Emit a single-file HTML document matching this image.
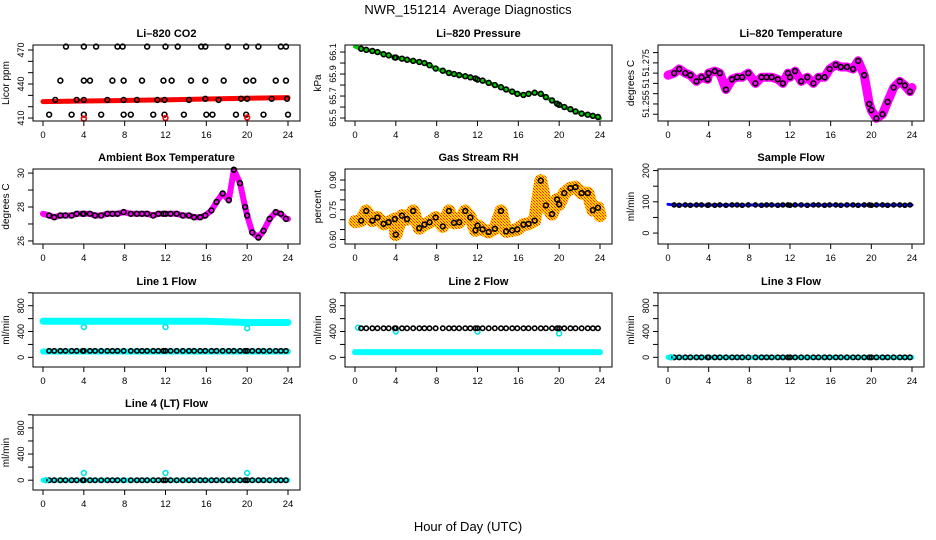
<!DOCTYPE html>
<html><head><meta charset="utf-8"><style>
body{margin:0;background:#fff}
svg{display:block;font-family:"Liberation Sans",sans-serif}
</style></head><body>
<svg id="c" width="936" height="540">
<defs>
<pattern id="rhpat" width="3" height="3" patternUnits="userSpaceOnUse">
<rect width="3" height="3" fill="#ffd000"/><rect width="1" height="1" fill="#ff2000"/><rect x="2" y="2" width="1" height="1" fill="#ff2000"/><rect x="1" y="1" width="1" height="1" fill="#ff8000"/>
</pattern>
</defs>
<text x="468" y="14" text-anchor="middle" font-size="13" style="white-space:pre">NWR_151214  Average Diagnostics</text>
<text x="468" y="531" text-anchor="middle" font-size="13">Hour of Day (UTC)</text>
</svg>
<script>
const hrs=[0.6,1.1,1.7,2.2,2.8,3.3,3.9,4.0,4.6,5.1,5.7,6.3,6.8,7.3,7.9,8.6,9.2,9.7,10.2,10.8,11.3,11.8,12.0,12.5,13.1,13.7,14.3,14.8,15.4,15.9,16.5,17.0,17.6,18.2,18.7,19.3,19.8,20.0,20.5,21.1,21.6,22.2,22.8,23.3,23.8];
const co2Hours=[2.25,4.0,5.2,7.3,7.8,10.2,12.0,13.2,15.5,15.9,18.1,19.9,21.1,23.3,23.8, 1.7,4.0,4.6,6.8,7.9,9.7,11.8,12.6,14.5,15.9,17.7,19.9,20.6,22.8,23.8, 1.2,3.3,4.0,6.3,7.9,9.2,11.2,11.9,14.3,15.9,17.2,19.4,20.0,22.4,23.9, 0.6,2.8,4.0,5.7,7.9,8.6,10.8,11.9,13.8,16.0,16.6,18.9,19.9,21.6,24.0];
const co2Values=[473,473,473,473,473,473,473,473,473,473,473,473,473,473,473, 443,443,443,443,443,443,443,443,443,443,443,443,443,443,443, 426,426,426,426,426,426,426,426,426,427,426,427,427,427,427, 413,413,413,413,413,413,413,413,413,413,413,413,413,413,413];
const co2RedHours=[4.0,12.0,20.0];
const co2RedValues=[409.5,410,410.5];
const bandHours=[0,4,8,12,16,20,24];
const co2Band=[424.5,425,425.5,426,426.8,427.5,428];
const pressure=[66.13,66.12,66.11,66.10,66.08,66.07,66.05,66.05,66.04,66.03,66.02,66.01,66.00,65.98,65.95,65.93,65.91,65.90,65.89,65.88,65.87,65.86,65.85,65.84,65.82,65.80,65.78,65.76,65.74,65.72,65.71,65.72,65.73,65.72,65.69,65.66,65.63,65.62,65.60,65.58,65.56,65.54,65.53,65.52,65.51];
const temperature=[51.270,51.272,51.270,51.269,51.266,51.268,51.267,51.270,51.271,51.270,51.262,51.267,51.268,51.268,51.270,51.265,51.268,51.268,51.268,51.267,51.265,51.270,51.268,51.271,51.266,51.268,51.265,51.268,51.268,51.272,51.274,51.273,51.273,51.272,51.276,51.269,51.255,51.252,51.248,51.250,51.256,51.263,51.266,51.264,51.261];
const ambient=[27.5,27.4,27.5,27.5,27.5,27.6,27.6,27.6,27.6,27.5,27.5,27.6,27.6,27.6,27.7,27.6,27.6,27.6,27.6,27.5,27.6,27.6,27.6,27.6,27.6,27.5,27.5,27.4,27.4,27.5,27.8,28.3,28.8,28.4,30.2,29.4,28.0,27.5,26.5,26.2,26.6,27.3,27.7,27.6,27.3];
const rh=[0.695,0.744,0.695,0.711,0.679,0.687,0.703,0.625,0.72,0.703,0.744,0.657,0.675,0.687,0.711,0.666,0.744,0.684,0.687,0.744,0.711,0.646,0.67,0.651,0.638,0.654,0.744,0.641,0.646,0.651,0.675,0.679,0.695,0.897,0.772,0.728,0.802,0.777,0.834,0.859,0.864,0.834,0.834,0.748,0.76];
const sampleFlow=[90,89,90,89,90,90,89,90,89,90,89,90,90,89,90,90,89,90,90,89,90,90,89,90,90,89,90,90,89,90,90,89,90,90,89,90,90,89,90,90,89,90,90,89,90];
const line1Black=100, line1CyanHi=[560,560,560,560,560,540,540], line1CyanLo=[90,90,90,90,90,90,90];
const line1CyanPtsH=[4,12,20], line1CyanPts=[470,470,450];
const line2Black=450, line2CyanLo=[80,80,80,80,80,80,80];
const line2CyanPtsH=[0.3,4,12,20], line2CyanPts=[460,400,400,370];
const line3Black=0, line3CyanLo=[0,0,0,0,0,0,0];
const line4Black=0, line4CyanLo=[0,0,0,0,0,0,0];
const line4CyanPtsH=[0.3,4,12,20], line4CyanPts=[0,110,110,110];

const NS="http://www.w3.org/2000/svg", svg=document.getElementById('c');
const L=[33,345,658],R=[300,612,924],T=[45,169,293,415],B=[121,244,367,490];
function el(t,a,p){const e=document.createElementNS(NS,t);for(const k in a)e.setAttribute(k,a[k]);(p||svg).appendChild(e);return e;}
function panel(o){
  const g=el('g',{});
  
  
  const l=L[o.c],r=R[o.c],t=T[o.r],b=B[o.r];
  o.x=h=>l+10+h*(r-l-22)/24;
  o.y=v=>b-(v-o.lim[0])/(o.lim[1]-o.lim[0])*(b-t);
  o.g=g;o.l=l;o.t=t;o.b=b;o.rr=r;
  return o;
}
function axes(o){
  const g=o.g;
  const box=el('rect',{x:o.l,y:o.t,width:o.rr-o.l,height:o.b-o.t,fill:'none',stroke:'#000','stroke-width':1},g);
  
  
  const tt=el('text',{x:(o.l+o.rr)/2,y:o.t-8,'text-anchor':'middle','font-size':11,'font-weight':'bold'},g);
  tt.textContent=o.title;
  
  
  el('line',{x1:o.x(0),x2:o.x(24),y1:o.b,y2:o.b,stroke:'#000'},g);
  for(let h=0;h<=24;h+=4){
    el('line',{x1:o.x(h),x2:o.x(h),y1:o.b,y2:o.b+5,stroke:'#000'},g);
    const tx=el('text',{x:o.x(h),y:o.b+17,'text-anchor':'middle','font-size':9.5},g);
    tx.textContent=h;
    
    
  }
  const yt=o.ticks;
  el('line',{x1:o.l,x2:o.l,y1:o.y(yt[0]),y2:o.y(yt[yt.length-1]),stroke:'#000'},g);
  yt.forEach(v=>el('line',{x1:o.l-5,x2:o.l,y1:o.y(v),y2:o.y(v),stroke:'#000'},g));
  o.labs.forEach((s,i)=>{
    const yy=o.y(o.labv[i]);
    const tx=el('text',{x:o.l-9,y:yy,'text-anchor':'middle','font-size':9,transform:`rotate(-90 ${o.l-9} ${yy})`},g);
    tx.textContent=s;
    
    
  });
  const cy=(o.t+o.b)/2;
  const yl=el('text',{x:o.l-24,y:cy,'text-anchor':'middle','font-size':10,transform:`rotate(-90 ${o.l-24} ${cy})`},g);
  yl.textContent=o.ylab;
  
  
}
function band(o,hs,vs,color,w,name){
  const p=el('polyline',{points:hs.map((h,i)=>o.x(h)+','+o.y(vs[i])).join(' '),fill:'none',stroke:color,'stroke-width':w,'stroke-linejoin':'round','stroke-linecap':'round'},o.g);
  
  
}
function pts(o,hs,vs,color,name,r){
  hs.forEach((h,i)=>{
    const c=el('circle',{cx:o.x(h),cy:o.y(vs[i]),r:r||2.4,fill:'none',stroke:color,'stroke-width':1.6},o.g);
    
    
  });
}
const rng=(a,b,s)=>{const r=[];for(let v=a;v<=b+1e-9;v+=s)r.push(+v.toFixed(4));return r;};
const fill=(n,v)=>hrs.map(()=>v);

let p=panel({name:'co2-panel',c:0,r:0,lim:[407.4,474.4],title:'Li–820 CO2',ylab:'Licor ppm',ticks:rng(410,470,10),labs:['410','440','470'],labv:[410,440,470]});
band(p,bandHours,co2Band,'#ff0000',5,'co2-band');
pts(p,co2Hours,co2Values,'#000','co2-point');
pts(p,co2RedHours,co2RedValues,'#ff0000','co2-red-point');
axes(p);
p=panel({name:'pressure-panel',c:1,r:0,lim:[65.473,66.164],title:'Li–820 Pressure',ylab:'kPa',ticks:rng(65.5,66.1,0.1),labs:['65.5','65.7','65.9','66.1'],labv:[65.5,65.7,65.9,66.1]});
band(p,[0].concat(hrs,[24]),[66.15].concat(pressure,[65.5]),'#00cc00',4,'pressure-band');
pts(p,hrs,pressure,'#000','pressure-point');
axes(p);
p=panel({name:'temperature-panel',c:2,r:0,lim:[51.2467,51.2837],title:'Li–820 Temperature',ylab:'degrees C',ticks:rng(51.25,51.28,0.005),labs:['51.255','51','51.275'],labv:[51.255,51.265,51.275]});
band(p,[0].concat(hrs,[24]),[51.269].concat(temperature,[51.263]),'#ff00ff',9,'temperature-band');
pts(p,hrs,temperature,'#000','temperature-point');
axes(p);
p=panel({name:'ambient-panel',c:0,r:1,lim:[25.82,30.24],title:'Ambient Box Temperature',ylab:'degrees C',ticks:rng(26,30,1),labs:['26','28','30'],labv:[26,28,30]});
band(p,[0].concat(hrs,[24]),[27.6].concat(ambient,[27.3]),'#ff00ff',6,'ambient-band');
pts(p,hrs,ambient,'#000','ambient-point');
axes(p);
p=panel({name:'rh-panel',c:1,r:1,lim:[0.5772,0.9556],title:'Gas Stream RH',ylab:'percent',ticks:rng(0.6,0.9,0.05),labs:['0.60','0.75','0.90'],labv:[0.6,0.75,0.9]});
band(p,[0].concat(hrs,[24]),[0.69].concat(rh,[0.72]),'url(#rhpat)',13,'rh-band');
pts(p,hrs,rh,'#000','rh-point');
axes(p);
p=panel({name:'sample-flow-panel',c:2,r:1,lim:[-35,205],title:'Sample Flow',ylab:'ml/min',ticks:rng(0,200,50),labs:['0','100','200'],labv:[0,100,200]});
band(p,[0].concat(hrs,[24]),[92].concat(sampleFlow,[90]),'#0000ff',3,'sample-band');
pts(p,hrs,sampleFlow,'#000','sample-point',2);
axes(p);
const flowOpt=(n,c,r,t)=>({name:n,c:c,r:r,lim:[-150,997],title:t,ylab:'ml/min',ticks:rng(0,1000,200),labs:['0','400','800'],labv:[0,400,800]});
p=panel(flowOpt('line1-panel',0,2,'Line 1 Flow'));
band(p,bandHours,line1CyanHi,'#00ffff',7,'line1-cyan-high');
band(p,bandHours,line1CyanLo,'#00ffff',6,'line1-cyan-low');
pts(p,hrs,fill(0,line1Black),'#000','line1-point',2.2);
pts(p,line1CyanPtsH,line1CyanPts,'#00e5e5','line1-cyan-point');
axes(p);
p=panel(flowOpt('line2-panel',1,2,'Line 2 Flow'));
band(p,bandHours,line2CyanLo,'#00ffff',6,'line2-cyan-low');
pts(p,line2CyanPtsH,line2CyanPts,'#00e5e5','line2-cyan-point');
pts(p,hrs,fill(0,line2Black),'#000','line2-point',2.2);
axes(p);
p=panel(flowOpt('line3-panel',2,2,'Line 3 Flow'));
band(p,bandHours,line3CyanLo,'#00ffff',5,'line3-cyan-low');
pts(p,hrs,fill(0,line3Black),'#000','line3-point',2.2);
pts(p,[0.3],[0],'#00e5e5','line3-cyan-point');
axes(p);
p=panel(flowOpt('line4-panel',0,3,'Line 4 (LT) Flow'));
band(p,bandHours,line4CyanLo,'#00ffff',5,'line4-cyan-low');
pts(p,hrs,fill(0,line4Black),'#000','line4-point',2.2);
pts(p,line4CyanPtsH,line4CyanPts,'#00e5e5','line4-cyan-point');
axes(p);
</script>
</body></html>
